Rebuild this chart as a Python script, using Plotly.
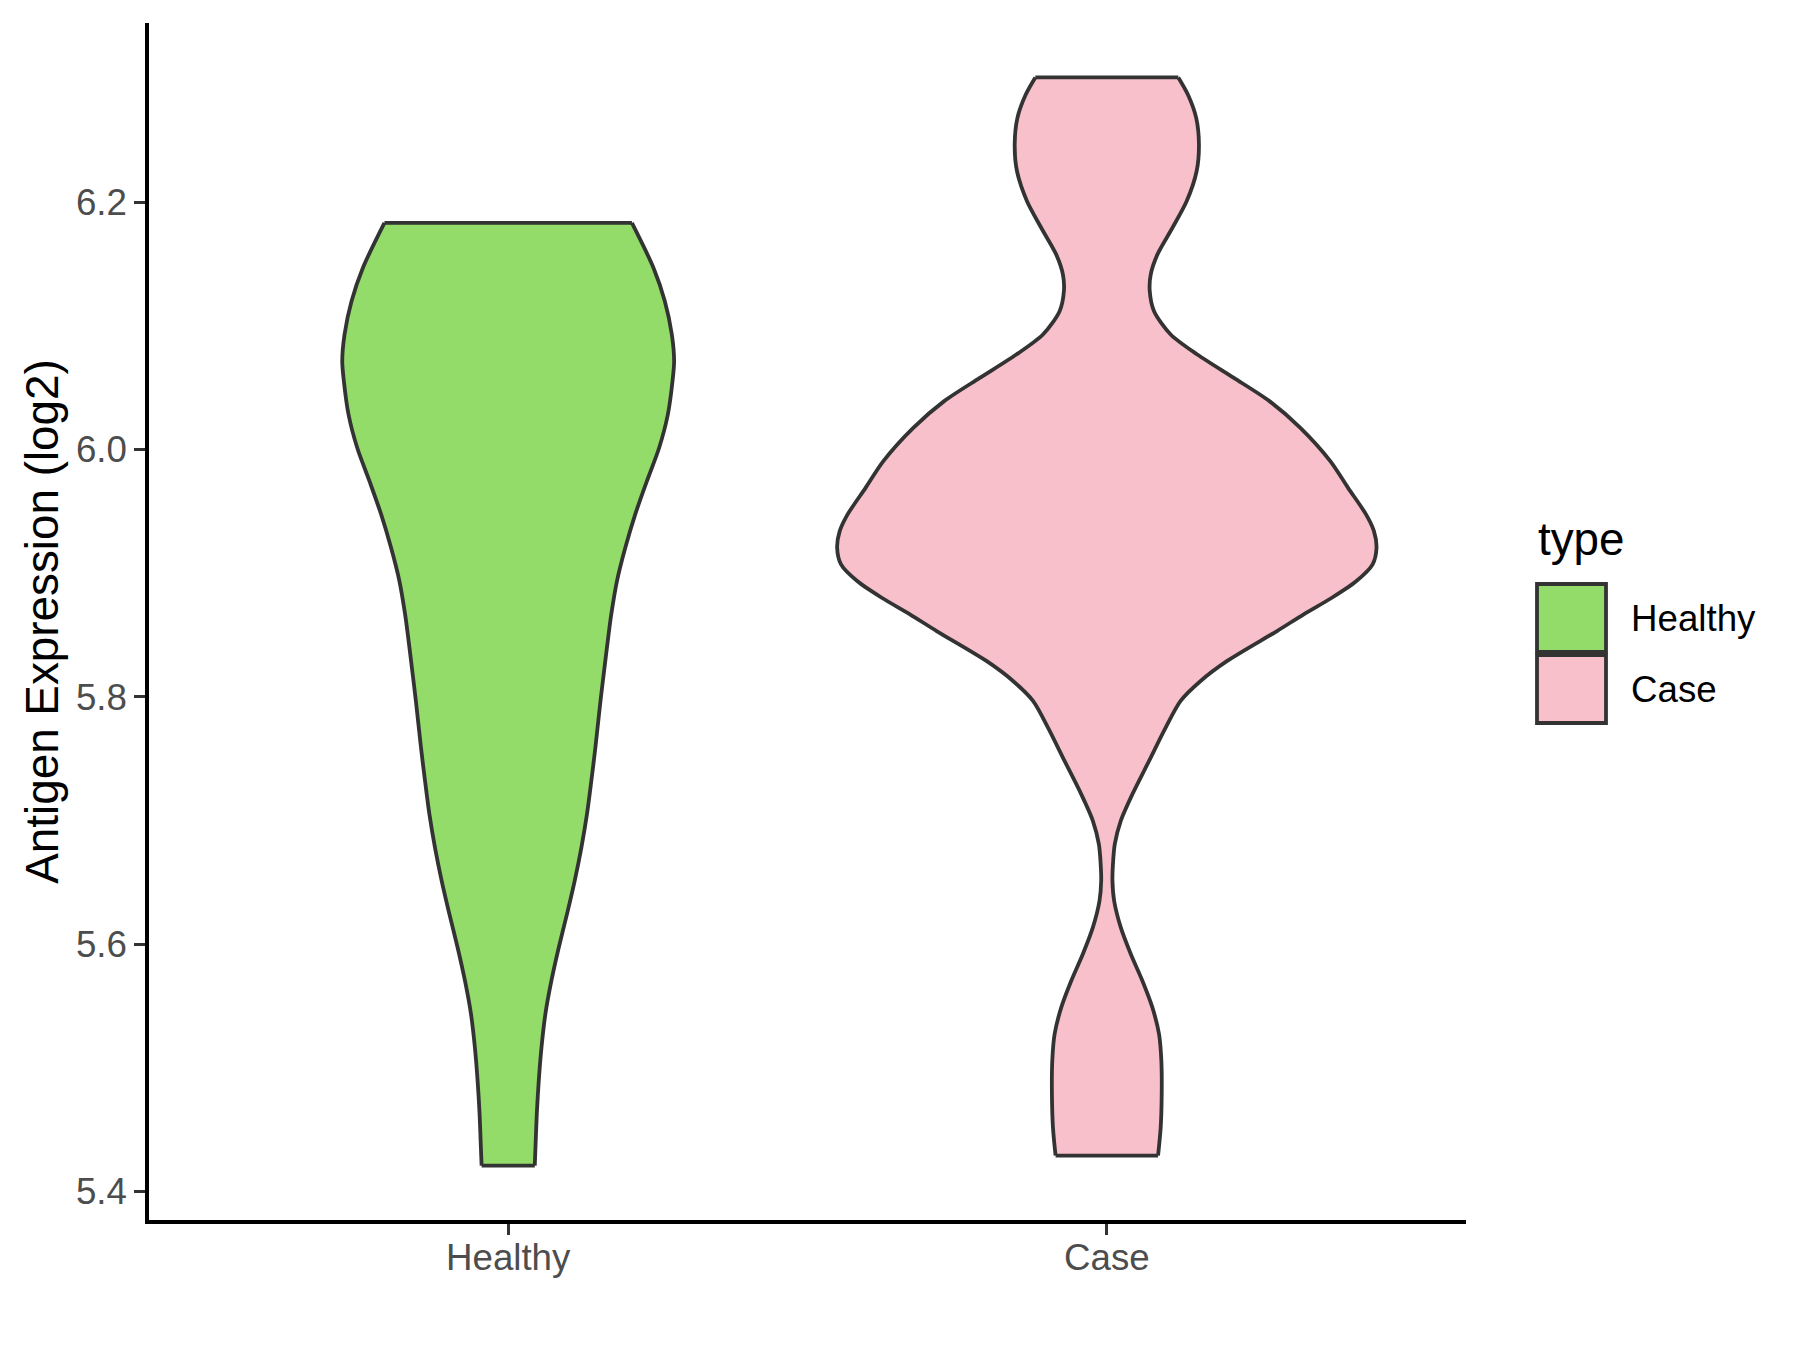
import plotly.graph_objects as go

# ---------------- data ----------------
categories = ["Healthy", "Case"]
fill_colors = ["#93DC6A", "#F8C0CB"]

# violin outline: expression value (log2) and half-width (in category units), top -> bottom
healthy_y = [6.1833, 6.1469, 6.1200, 6.0933, 6.0715, 6.0554, 6.0284, 6.0015, 5.9745,
             5.9476, 5.9206, 5.8937, 5.8668, 5.8509, 5.8234, 5.7968, 5.7588, 5.7321,
             5.7055, 5.6780, 5.6513, 5.6246, 5.5972, 5.5705, 5.5438, 5.5164, 5.4897,
             5.4630, 5.4356, 5.4210]
healthy_halfwidth = [0.2067, 0.2428, 0.2617, 0.2733, 0.2772, 0.2745, 0.2667, 0.2522, 0.2317,
                     0.2122, 0.1956, 0.1817, 0.1722, 0.1678, 0.1608, 0.1542, 0.1456, 0.1389,
                     0.1317, 0.1222, 0.1111, 0.0983, 0.0844, 0.0722, 0.0622, 0.0556, 0.0511,
                     0.0478, 0.0456, 0.0444]

case_y = [6.3010, 6.2870, 6.2681, 6.2466, 6.2251, 6.2008, 6.1792, 6.1577, 6.1416, 6.1281,
          6.1119, 6.0931, 6.0769, 6.0580, 6.0392, 6.0176, 5.9907, 5.9691, 5.9476, 5.9341,
          5.9206, 5.9072, 5.8937, 5.8802, 5.8668, 5.8533, 5.8291, 5.8129, 5.7968, 5.7752,
          5.7483, 5.7214, 5.6998, 5.6810, 5.6675, 5.6513, 5.6352, 5.6136, 5.5921, 5.5705,
          5.5489, 5.5274, 5.5059, 5.4790, 5.4520, 5.4291]
case_halfwidth = [0.1194, 0.1356, 0.1494, 0.1539, 0.1500, 0.1333, 0.1094, 0.0844, 0.0733, 0.0717,
                  0.0789, 0.1067, 0.1511, 0.2122, 0.2717, 0.3233, 0.3733, 0.4030, 0.4330, 0.4462,
                  0.4505, 0.4440, 0.4170, 0.3760, 0.3289, 0.2844, 0.2011, 0.1567, 0.1233, 0.0983,
                  0.0706, 0.0428, 0.0233, 0.0133, 0.0106, 0.0094, 0.0122, 0.0233, 0.0400, 0.0594,
                  0.0761, 0.0872, 0.0911, 0.0917, 0.0900, 0.0856]

y_ticks = [5.4, 5.6, 5.8, 6.0, 6.2]
y_tick_labels = ["5.4", "5.6", "5.8", "6.0", "6.2"]
y_title = "Antigen Expression (log2)"
legend_title = "type"

# ---------------- layout constants ----------------
W, H = 1800, 1350
OFF = 8  # page body margin of the html page
ML, MR, MT, MB = 141, 342, 15, 138
FONT = "Liberation Sans, Arial, Helvetica, sans-serif"
OUTLINE = "#333333"
LW = 3.8

fig = go.Figure()
profiles = [(healthy_y, healthy_halfwidth), (case_y, case_halfwidth)]
for i, (cat, (ys, hws), col) in enumerate(zip(categories, profiles, fill_colors)):
    pos = i + 1
    left_x = [pos - w for w in hws]
    right_x = [pos + w for w in hws]
    # left side (no fill)
    fig.add_trace(go.Scatter(
        x=left_x, y=ys, mode="lines",
        line=dict(color=OUTLINE, width=LW, shape="spline", smoothing=0.8),
        showlegend=False, hoverinfo="skip"))
    # right side, filled back to the left side
    fig.add_trace(go.Scatter(
        x=right_x, y=ys, mode="lines", fill="tonextx", fillcolor=col,
        line=dict(color=OUTLINE, width=LW, shape="spline", smoothing=0.8),
        name=cat, showlegend=False, hoverinfo="skip"))
    # flat top and bottom edges
    fig.add_trace(go.Scatter(
        x=[left_x[0], right_x[0], None, left_x[-1], right_x[-1]],
        y=[ys[0], ys[0], None, ys[-1], ys[-1]], mode="lines",
        line=dict(color=OUTLINE, width=LW), showlegend=False, hoverinfo="skip"))

all_y = healthy_y + case_y
lo, hi = min(all_y), max(all_y)
pad = 0.05 * (hi - lo)
n = len(categories)

fig.update_xaxes(
    range=[1 - 0.6, n + 0.6], tickvals=list(range(1, n + 1)), ticktext=categories,
    showline=True, linecolor="black", linewidth=3.5, mirror=False,
    ticks="outside", ticklen=11, tickwidth=3.2, tickcolor=OUTLINE,
    ticklabelstandoff=-9,
    tickfont=dict(family=FONT, size=36.7, color="#4D4D4D"),
    showgrid=False, zeroline=False, fixedrange=True)
fig.update_yaxes(
    range=[lo - pad, hi + pad], tickvals=y_ticks, ticktext=y_tick_labels,
    showline=True, linecolor="black", linewidth=3.5,
    ticks="outside", ticklen=11, tickwidth=3.2, tickcolor=OUTLINE,
    tickfont=dict(family=FONT, size=36.7, color="#4D4D4D"),
    title=dict(text=y_title, font=dict(family=FONT, size=45.8, color="black"), standoff=4),
    showgrid=False, zeroline=False, fixedrange=True)

# ---------------- legend (drawn in paper coordinates) ----------------
pw, ph = W - ML - MR, H - MT - MB
def px(x):
    return (x - OFF - ML) / pw
def py(y):
    return (H - MB - (y - OFF)) / ph

shapes = []
annotations = []
annotations.append(dict(x=px(1536), y=py(539), xref="paper", yref="paper", text=legend_title,
                        showarrow=False, xanchor="left", yanchor="middle",
                        font=dict(family=FONT, size=45.8, color="black")))
key_top = 584
key_h = 68
for i, (cat, col) in enumerate(zip(categories, fill_colors)):
    y0 = key_top + i * (key_h + 3)
    shapes.append(dict(type="rect", xref="paper", yref="paper",
                       x0=px(1537), x1=px(1606), y0=py(y0 + key_h), y1=py(y0),
                       fillcolor=col, line=dict(color=OUTLINE, width=LW)))
    annotations.append(dict(x=px(1629), y=py(y0 + key_h / 2), xref="paper", yref="paper",
                            text=cat, showarrow=False, xanchor="left", yanchor="middle",
                            font=dict(family=FONT, size=36.7, color="black")))

fig.update_layout(
    width=W, height=H, margin=dict(l=ML, r=MR, t=MT, b=MB, autoexpand=False),
    paper_bgcolor="white", plot_bgcolor="white", showlegend=False,
    shapes=shapes, annotations=annotations, font=dict(family=FONT))

fig.write_html("out.html")
